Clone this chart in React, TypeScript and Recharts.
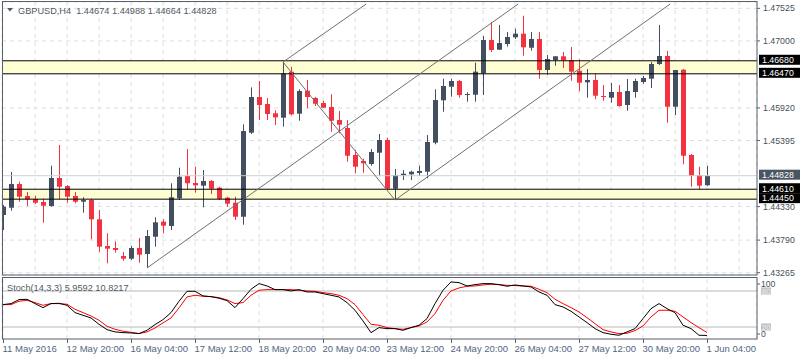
import React from 'react';
import { ComposedChart, Bar, Line, XAxis, YAxis, CartesianGrid, ReferenceLine, ReferenceArea } from 'recharts';

const titleSymbol = 'GBPUSD,H4';
const lastOHLC = ['1.44674', '1.44988', '1.44664', '1.44828'];
const stochTitle = 'Stoch(14,3,3) 5.9592 10.8217';

const opens = [
  1.44195, 1.44312, 1.44694, 1.44501, 1.44453, 1.44404, 1.44340, 1.44791, 1.44662, 1.44501,
  1.44409, 1.44436, 1.44125, 1.43695, 1.43663, 1.43534, 1.43491, 1.43663, 1.43566, 1.43845,
  1.44087, 1.44018, 1.44464, 1.44823, 1.44710, 1.44667, 1.44743, 1.44635, 1.44474, 1.44393,
  1.44167, 1.45521, 1.46096, 1.45983, 1.45833, 1.45763, 1.46504, 1.45827, 1.46198, 1.46080,
  1.45999, 1.45935, 1.45725, 1.45597, 1.45162, 1.45065, 1.45017, 1.45199, 1.45403, 1.44619,
  1.44834, 1.44851, 1.44872, 1.44892, 1.45360, 1.46043, 1.46262, 1.46354, 1.46133, 1.46133,
  1.46478, 1.47015, 1.46858, 1.46950, 1.47058, 1.47116, 1.46890, 1.47031, 1.46531, 1.46692,
  1.46752, 1.46692, 1.46520, 1.46333, 1.46370, 1.46112, 1.46085, 1.46177, 1.45967, 1.46177,
  1.46338, 1.46391, 1.46628, 1.46757, 1.45940, 1.46536, 1.45162, 1.44839, 1.44674,
];
const highs = [
  1.44356, 1.44888, 1.44731, 1.44565, 1.44506, 1.44457, 1.44989, 1.45323, 1.44678, 1.44565,
  1.44480, 1.44457, 1.44275, 1.43900, 1.43771, 1.43599, 1.43695, 1.43824, 1.43953, 1.44158,
  1.44125, 1.44706, 1.44957, 1.45258, 1.44973, 1.44920, 1.44759, 1.44651, 1.44490, 1.44490,
  1.45656, 1.46252, 1.46354, 1.46080, 1.45882, 1.46660, 1.46584, 1.46220, 1.46370, 1.46096,
  1.46036, 1.46140, 1.45871, 1.45725, 1.45242, 1.45102, 1.45258, 1.45500, 1.45440, 1.44936,
  1.44920, 1.44909, 1.44989, 1.45484, 1.46220, 1.46391, 1.46391, 1.46370, 1.46172, 1.46649,
  1.47079, 1.47305, 1.47256, 1.47143, 1.47197, 1.47406, 1.47143, 1.47143, 1.46773, 1.46752,
  1.46821, 1.46902, 1.46704, 1.46547, 1.46472, 1.46289, 1.46322, 1.46289, 1.46386, 1.46391,
  1.46434, 1.46660, 1.47256, 1.46837, 1.46531, 1.46547, 1.45178, 1.44973, 1.44988,
];
const lows = [
  1.43953, 1.44264, 1.44409, 1.44340, 1.44372, 1.44071, 1.44328, 1.44448, 1.44393, 1.44383,
  1.44232, 1.43803, 1.43603, 1.43416, 1.43587, 1.43458, 1.43470, 1.43426, 1.43341, 1.43684,
  1.43900, 1.43953, 1.44436, 1.44609, 1.44554, 1.44319, 1.44533, 1.44436, 1.44328, 1.44114,
  1.44038, 1.45500, 1.45725, 1.45725, 1.45645, 1.45618, 1.45801, 1.45714, 1.45914, 1.45951,
  1.45924, 1.45537, 1.45511, 1.45054, 1.44867, 1.44876, 1.44989, 1.44828, 1.44598, 1.44436,
  1.44759, 1.44759, 1.44823, 1.44786, 1.45334, 1.45859, 1.46101, 1.46085, 1.46020, 1.46020,
  1.46128, 1.46821, 1.46858, 1.46907, 1.47031, 1.46762, 1.46842, 1.46391, 1.46455, 1.46600,
  1.46563, 1.46359, 1.46188, 1.46085, 1.46059, 1.46036, 1.46004, 1.45940, 1.45875, 1.46085,
  1.46310, 1.46241, 1.46612, 1.45682, 1.45806, 1.45012, 1.44651, 1.44609, 1.44664,
];
const closes = [
  1.44328, 1.44694, 1.44490, 1.44448, 1.44393, 1.44345, 1.44791, 1.44651, 1.44490, 1.44409,
  1.44436, 1.44125, 1.43684, 1.43652, 1.43631, 1.43491, 1.43663, 1.43555, 1.43856, 1.44077,
  1.44022, 1.44480, 1.44812, 1.44706, 1.44673, 1.44743, 1.44619, 1.44453, 1.44377, 1.44167,
  1.45548, 1.46096, 1.45967, 1.45822, 1.45769, 1.46478, 1.45817, 1.46193, 1.46096, 1.45988,
  1.45924, 1.45714, 1.45650, 1.45150, 1.44973, 1.45028, 1.45210, 1.45403, 1.44619, 1.44839,
  1.44860, 1.44892, 1.44904, 1.45371, 1.46047, 1.46273, 1.46354, 1.46128, 1.46144, 1.46504,
  1.47015, 1.46853, 1.46966, 1.47063, 1.47116, 1.46897, 1.47031, 1.46531, 1.46708, 1.46752,
  1.46687, 1.46504, 1.46327, 1.46370, 1.46117, 1.46101, 1.46177, 1.45951, 1.46193, 1.46354,
  1.46402, 1.46628, 1.46757, 1.45940, 1.46531, 1.45150, 1.44823, 1.44667, 1.44828,
];

const stochK = [
  57.3, 59, 65.6, 66.2, 59, 52.3, 59, 59.5, 56.2, 44,
  39.5, 35.1, 24.5, 15.6, 11.8, 10.6, 10.1, 9, 14.5, 24,
  32.3, 44, 62.9, 79.5, 79.5, 71.8, 70.6, 67.9, 64, 52.3,
  67.3, 82.9, 92.3, 88.4, 82.3, 82.3, 80.1, 82.3, 78.4, 78.4,
  75.6, 72.9, 70.1, 60.7, 47.9, 30.1, 10.6, 19, 17.3, 17.3,
  14.5, 19, 22.9, 34, 59, 81.2, 95.1, 94, 88.4, 90.6,
  92.3, 92.3, 90.6, 87.9, 90.1, 88.4, 86.8, 78.4, 72.9, 57.3,
  53.4, 46.2, 36.8, 27.3, 17.3, 10.6, 7.9, 6.2, 11.8, 17.3,
  34, 50.6, 59, 50.6, 44, 22.9, 17.3, 6.2, 5.96,
];
const stochD = [
  57.3, 57.3, 62.9, 64.5, 60.7, 56.2, 59, 59, 57.9, 49.5,
  44, 38.4, 31.2, 21.2, 16.2, 12.9, 11.2, 9, 11.8, 18.4,
  26.8, 35.1, 51.8, 70.1, 72.9, 71.2, 70.6, 69, 65.1, 59,
  60.7, 72.9, 81.2, 82.3, 82.3, 82.3, 82.3, 81.2, 80.1, 79.5,
  77.3, 75.6, 72.9, 67.3, 57.3, 40.6, 24.5, 22.9, 19, 17.3,
  16.2, 19, 21.8, 28.4, 42.3, 64.5, 80.1, 85.1, 87.9, 88.4,
  90.1, 91.2, 90.6, 89.5, 89, 88.4, 87.9, 82.9, 77.3, 66.2,
  59, 52.3, 45.1, 35.6, 25.6, 15.6, 11.8, 9, 9.5, 14,
  21.8, 36.8, 47.9, 47.9, 46.2, 36.8, 27.3, 19, 10.82,
];

const xLabels = [
  '11 May 2016', '12 May 20:00', '16 May 04:00', '17 May 12:00', '18 May 20:00', '20 May 04:00',
  '23 May 12:00', '24 May 20:00', '26 May 04:00', '27 May 12:00', '30 May 20:00', '1 Jun 04:00',
];
const priceTicks = [1.47525, 1.47, 1.4592, 1.45395, 1.4433, 1.4379, 1.43265];
const resistanceBand = [1.4647, 1.4668];
const supportBand = [1.4445, 1.4461];
const currentPrice = 1.44828;
const stochLevels = [20, 80];
const stochTicks = [0, 20, 80, 100];

// trend lines: [barIndex, price] endpoints
const trendLines = [
  [[18, 1.43341], [64.4, 1.47595]],
  [[35, 1.4666], [45.4, 1.47595]],
  [[35, 1.4666], [49, 1.44436]],
  [[49, 1.44436], [83.4, 1.47595]],
];

const X_DOMAIN = [-0.125, 94.25];
const PRICE_DOMAIN = [1.43228, 1.47627];

const BULL = '#434f5f';
const BEAR = '#f2323f';
const FRAME = '#56616c';
const FONT = '"Liberation Sans", Arial, sans-serif';

const candles = opens.map((o, i) => ({
  i,
  open: o,
  high: highs[i],
  low: lows[i],
  close: closes[i],
  range: [lows[i], highs[i]],
}));
const stochData = stochK.map((k, i) => ({ i, k, d: stochD[i] }));
const gridTicks = Array.from({ length: 24 }, (_, k) => k * 4);
const labelTicks = xLabels.map((_, k) => k * 8);

const Candle = (props: any) => {
  const { x, y, width, height, payload } = props;
  if (!payload) return null;
  const { open, close, high, low } = payload;
  const c = Math.round(x + width / 2);
  const span = high - low;
  const toY = (v: number) => (span === 0 ? y : y + ((high - v) / span) * height);
  const bull = close >= open;
  const color = bull ? BULL : BEAR;
  const top = toY(Math.max(open, close));
  const bot = toY(Math.min(open, close));
  return (
    <g>
      <line x1={c + 0.5} x2={c + 0.5} y1={y} y2={y + height} stroke={color} strokeWidth={1} />
      <rect x={c - 2} y={top} width={5} height={Math.max(1, bot - top)} fill={color} />
    </g>
  );
};

const PriceTick = (props: any) => {
  const { x, y, payload } = props;
  return (
    <text x={x} y={y + 3} fontSize={8.8} fontFamily={FONT} fill="#46505a" textAnchor="start">
      {payload.value.toFixed(5)}
    </text>
  );
};

const PriceBox = (props: any) => {
  const { viewBox, value, bg } = props;
  if (!viewBox) return null;
  const bx = viewBox.x + viewBox.width + 2;
  const cy = viewBox.y - 1;
  return (
    <g>
      <rect x={bx} y={cy - 5} width={42} height={10} fill={bg} />
      <text x={bx + 3} y={cy + 3.3} fontSize={8.8} fontFamily={FONT} fill="#ffffff">
        {value.toFixed(5)}
      </text>
    </g>
  );
};

const StochTick = (props: any) => {
  const { x, y, payload } = props;
  const v = payload.value;
  if (v === 100 || v === 0) {
    const ty = v === 100 ? y + 8 : y - 2;
    return (
      <g>
        <line x1={x - 6} x2={x - 3} y1={ty - 3} y2={ty - 3} stroke={FRAME} />
        <text x={x - 2} y={ty} fontSize={8.6} fontFamily={FONT} fill="#46505a">{v}</text>
      </g>
    );
  }
  return (
    <g>
      <rect x={x - 2} y={y - 3.6} width={10} height={7.2} fill="#c3c3c3" />
      <text x={x - 1.2} y={y + 2.7} fontSize={7.8} fontFamily={FONT} fill="#ececec">{v}</text>
    </g>
  );
};

const DateTick = (props: any) => {
  const { x, y, payload } = props;
  const label = xLabels[Math.round(payload.value / 8)];
  const px = Math.round(x) + 0.5;
  return (
    <g>
      <line x1={px} x2={px} y1={y} y2={y + 4} stroke={FRAME} />
      <text x={x - 0.5} y={y + 12.5} fontSize={9.5} fontFamily={FONT} fill="#52677d">{label}</text>
    </g>
  );
};

export default function App() {
  return (
    <div style={{ position: 'absolute', left: 0, top: 0, width: 800, height: 360, background: '#ffffff', overflow: 'hidden' }}>
      <div style={{ position: 'absolute', left: 0, top: 0 }}>
        <ComposedChart width={800} height={280} data={candles} margin={{ top: 2, right: 0, bottom: 5, left: 2 }}>
          <CartesianGrid stroke="#dedede" strokeDasharray="4 4" />
          <XAxis dataKey="i" type="number" domain={X_DOMAIN} ticks={gridTicks} allowDataOverflow hide />
          <YAxis
            orientation="right"
            type="number"
            width={43}
            domain={PRICE_DOMAIN}
            ticks={priceTicks}
            allowDataOverflow
            interval={0}
            tickSize={3}
            tickMargin={3}
            axisLine={false}
            tickLine={{ stroke: FRAME }}
            tick={<PriceTick />}
          />
          <ReferenceArea y1={resistanceBand[0]} y2={resistanceBand[1]} fill="#fffdd2" fillOpacity={1} stroke="none" />
          <ReferenceArea y1={supportBand[0]} y2={supportBand[1]} fill="#fffdd2" fillOpacity={1} stroke="none" />
          <ReferenceLine y={currentPrice} stroke="#cfcfcf" label={<PriceBox value={currentPrice} bg="#4a5563" />} />
          {[...resistanceBand, ...supportBand].map((v) => (
            <ReferenceLine key={v} y={v} stroke="#000000" strokeWidth={1} label={<PriceBox value={v} bg="#000000" />} />
          ))}
          <Bar dataKey="range" barSize={5} shape={<Candle />} isAnimationActive={false} />
          {trendLines.map((seg, k) => (
            <ReferenceLine
              key={k}
              segment={[{ x: seg[0][0], y: seg[0][1] }, { x: seg[1][0], y: seg[1][1] }]}
              stroke="#707070"
              strokeWidth={1}
            />
          ))}
        </ComposedChart>
      </div>
      <div style={{ position: 'absolute', left: 0, top: 277 }}>
        <ComposedChart width={800} height={83} data={stochData} margin={{ top: 2, right: 0, bottom: 1, left: 2 }}>
          <CartesianGrid stroke="#dedede" strokeDasharray="4 4" horizontal={false} />
          <XAxis
            dataKey="i"
            type="number"
            domain={X_DOMAIN}
            ticks={labelTicks}
            interval={0}
            allowDataOverflow
            height={20}
            tickSize={0}
            tickMargin={0}
            axisLine={false}
            tickLine={false}
            tick={<DateTick />}
          />
          <YAxis
            orientation="right"
            type="number"
            width={43}
            domain={[0, 100]}
            ticks={stochTicks}
            interval={0}
            allowDataOverflow
            tickSize={3}
            tickMargin={3}
            axisLine={false}
            tickLine={false}
            tick={<StochTick />}
          />
          {stochLevels.map((v) => (
            <ReferenceLine key={v} y={v} stroke="#b8b8b8" />
          ))}
          <Line dataKey="d" stroke="#ff0000" strokeWidth={1} dot={false} isAnimationActive={false} />
          <Line dataKey="k" stroke="#000000" strokeWidth={1} dot={false} isAnimationActive={false} />
        </ComposedChart>
      </div>
      <svg width={800} height={360} style={{ position: 'absolute', left: 0, top: 0, pointerEvents: 'none' }}>
        <rect x={2.5} y={1.5} width={754.5} height={273.5} fill="none" stroke={FRAME} />
        <rect x={2.5} y={277.5} width={754.5} height={61.5} fill="none" stroke={FRAME} />
        <polygon points="7,8 13,8 10,11.5" fill="#505a64" />
        <text x={18} y={14} fontSize={9.2} fontFamily={FONT} fill="#505a64" xmlSpace="preserve">
          {titleSymbol + '  ' + lastOHLC.join(' ')}
        </text>
        <text x={7} y={291} fontSize={9.2} fontFamily={FONT} fill="#505a64">{stochTitle}</text>
      </svg>
    </div>
  );
}
